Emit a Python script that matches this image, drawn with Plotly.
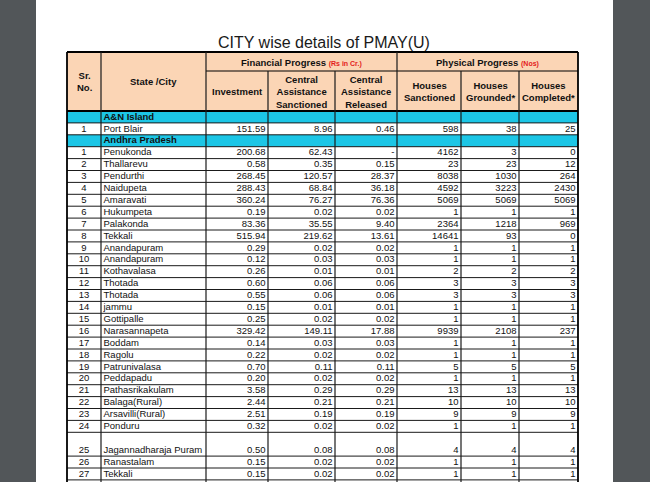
import plotly.graph_objects as go

# ---------------- data ----------------
title_text = "CITY wise details of PMAY(U)"
col_headers = ["Sr.<br>No.", "State /City", "Investment",
               "Central<br>Assistance<br>Sanctioned", "Central<br>Assistance<br>Released",
               "Houses<br>Sanctioned", "Houses<br>Grounded*", "Houses<br>Completed*"]
group_headers = ["Financial Progress", "Physical Progress"]
group_units = ["(Rs in Cr.)", "(Nos)"]

state_names = ["A&N Island", "Andhra Pradesh"]
state_city_counts = [1, 27]

sr_no = [1,
         1, 2, 3, 4, 5, 6, 7, 8, 9, 10, 11, 12, 13, 14, 15, 16, 17, 18, 19, 20,
         21, 22, 23, 24, 25, 26, 27]
cities = ["Port Blair",
          "Penukonda", "Thallarevu", "Pendurthi", "Naidupeta", "Amaravati", "Hukumpeta",
          "Palakonda", "Tekkali", "Anandapuram", "Anandapuram", "Kothavalasa", "Thotada",
          "Thotada", "jammu", "Gottipalle", "Narasannapeta", "Boddam", "Ragolu",
          "Patrunivalasa", "Peddapadu", "Pathasrikakulam", "Balaga(Rural)",
          "Arsavilli(Rural)", "Ponduru", "Jagannadharaja Puram", "Ranastalam", "Tekkali"]
investment = [151.59,
              200.68, 0.58, 268.45, 288.43, 360.24, 0.19, 83.36, 515.94, 0.29, 0.12, 0.26,
              0.60, 0.55, 0.15, 0.25, 329.42, 0.14, 0.22, 0.70, 0.20, 3.58, 2.44, 2.51,
              0.32, 0.50, 0.15, 0.15]
ca_sanctioned = [8.96,
                 62.43, 0.35, 120.57, 68.84, 76.27, 0.02, 35.55, 219.62, 0.02, 0.03, 0.01,
                 0.06, 0.06, 0.01, 0.02, 149.11, 0.03, 0.02, 0.11, 0.02, 0.29, 0.21, 0.19,
                 0.02, 0.08, 0.02, 0.02]
ca_released = [0.46,
               None, 0.15, 28.37, 36.18, 76.36, 0.02, 9.40, 13.61, 0.02, 0.03, 0.01,
               0.06, 0.06, 0.01, 0.02, 17.88, 0.03, 0.02, 0.11, 0.02, 0.29, 0.21, 0.19,
               0.02, 0.08, 0.02, 0.02]
houses_sanctioned = [598,
                     4162, 23, 8038, 4592, 5069, 1, 2364, 14641, 1, 1, 2, 3, 3, 1, 1,
                     9939, 1, 1, 5, 1, 13, 10, 9, 1, 4, 1, 1]
houses_grounded = [38,
                   3, 23, 1030, 3223, 5069, 1, 1218, 93, 1, 1, 2, 3, 3, 1, 1,
                   2108, 1, 1, 5, 1, 13, 10, 9, 1, 4, 1, 1]
houses_completed = [25,
                    0, 12, 264, 2430, 5069, 1, 969, 0, 1, 1, 2, 3, 3, 1, 1,
                    237, 1, 1, 5, 1, 13, 10, 9, 1, 4, 1, 1]

# ---------------- layout / style ----------------
W, H = 650, 482
FONT = "Liberation Sans, Arial, sans-serif"
BG_GRAY = "#525659"
HEAD_FILL = "#FBD5B5"
STATE_FILL = "#1CC6E6"
RED = "#E31B1B"
INK = "#111111"
COL_EDGES = [67, 101, 206, 268, 335, 397, 461, 519, 578]
HEAD_TOP, HEAD_MID, HEAD_BOT = 52, 71, 111
ROW_H = 11.9
DOUBLE_ROW_CITIES = {"Jagannadharaja Puram"}
BODY_FS = 9.5
HEAD_FS = 9.5
PAD = 2.5


def fmt2(v):
    return "-" if v is None else f"{v:.2f}"


# build rows (state header rows + city rows)
state_rows = []   # (name, top, bottom)
city_rows = []    # (index, top, bottom)
y = HEAD_BOT
ci = 0
for name, n in zip(state_names, state_city_counts):
    state_rows.append((name, y, y + ROW_H))
    y += ROW_H
    for _ in range(n):
        h = ROW_H * 2 if cities[ci] in DOUBLE_ROW_CITIES else ROW_H
        city_rows.append((ci, y, y + h))
        y += h
        ci += 1

fig = go.Figure()
shapes = []

# page
shapes.append(dict(type="rect", xref="x", yref="y", x0=36, x1=613, y0=-2, y1=H + 2,
                   fillcolor="white", line=dict(width=0), layer="below"))
# header fill
shapes.append(dict(type="rect", xref="x", yref="y", x0=COL_EDGES[0], x1=COL_EDGES[-1],
                   y0=HEAD_TOP, y1=HEAD_BOT, fillcolor=HEAD_FILL, line=dict(width=0), layer="below"))
# state row fills
for name, t, b in state_rows:
    shapes.append(dict(type="rect", xref="x", yref="y", x0=COL_EDGES[0], x1=COL_EDGES[-1],
                       y0=t, y1=b, fillcolor=STATE_FILL, line=dict(width=0), layer="below"))


def hline(yv, x0, x1, w=1, c="#1a1a1a"):
    shapes.append(dict(type="line", xref="x", yref="y", x0=x0, x1=x1, y0=yv, y1=yv,
                       line=dict(color=c, width=w)))


def vline(xv, y0, y1, w=1, c="#1a1a1a"):
    shapes.append(dict(type="line", xref="x", yref="y", x0=xv, x1=xv, y0=y0, y1=y1,
                       line=dict(color=c, width=w)))


# horizontal lines
hline(HEAD_TOP, COL_EDGES[0], COL_EDGES[-1], 2, "#000")
hline(HEAD_MID, COL_EDGES[2], COL_EDGES[-1], 1.2, "#000")
hline(HEAD_BOT, COL_EDGES[0], COL_EDGES[-1], 2, "#000")
for _, t, b in state_rows:
    hline(b, COL_EDGES[0], COL_EDGES[-1], 1)
for _, t, b in city_rows:
    hline(b, COL_EDGES[0], COL_EDGES[-1], 1)

# vertical lines
for i, xe in enumerate(COL_EDGES):
    if i in (0, len(COL_EDGES) - 1):
        vline(xe, HEAD_TOP, H + 2, 1.8, "#000")
    elif i in (1, 2, 5):
        vline(xe, HEAD_TOP, H + 2, 1.2)
    else:
        vline(xe, HEAD_MID, H + 2, 1.2)

# ---------------- header text ----------------
annotations = []
annotations.append(dict(x=324, y=42, xref="x", yref="y", text=title_text, showarrow=False,
                        font=dict(family=FONT, size=16, color="#1a1a1a"),
                        xanchor="center", yanchor="middle"))
for i, txt in enumerate(col_headers):
    cx = (COL_EDGES[i] + COL_EDGES[i + 1]) / 2
    cy = (HEAD_TOP + HEAD_BOT) / 2 if i < 2 else (HEAD_MID + HEAD_BOT) / 2 + 0.5
    annotations.append(dict(x=cx, y=cy, xref="x", yref="y", text=f"<b>{txt}</b>",
                            showarrow=False, font=dict(family=FONT, size=HEAD_FS, color=INK),
                            xanchor="center", yanchor="middle"))
for gi, (g, u) in enumerate(zip(group_headers, group_units)):
    x0 = COL_EDGES[2 + 3 * gi]
    x1 = COL_EDGES[5 + 3 * gi]
    annotations.append(dict(
        x=(x0 + x1) / 2, y=(HEAD_TOP + HEAD_MID) / 2 + 0.5, xref="x", yref="y",
        text=f"<b>{g}</b> <span style='color:{RED};font-size:7px'><b>{u}</b></span>",
        showarrow=False, font=dict(family=FONT, size=HEAD_FS, color=INK),
        xanchor="center", yanchor="middle"))


# ---------------- body text (scatter text through axes) ----------------
def row_text_y(t, b):
    # text sits at bottom of tall rows, centred in normal rows
    return b - ROW_H / 2 + 0.3


ys = [row_text_y(t, b) for _, t, b in city_rows]
idx = [i for i, _, _ in city_rows]

fig.add_trace(go.Scatter(
    x=[(COL_EDGES[0] + COL_EDGES[1]) / 2] * len(idx), y=ys, mode="text",
    text=[str(sr_no[i]) for i in idx], textposition="middle center",
    textfont=dict(family=FONT, size=BODY_FS, color=INK), hoverinfo="skip"))
fig.add_trace(go.Scatter(
    x=[COL_EDGES[1] + PAD] * len(idx), y=ys, mode="text",
    text=[cities[i] for i in idx], textposition="middle right",
    textfont=dict(family=FONT, size=BODY_FS, color=INK), hoverinfo="skip"))
fig.add_trace(go.Scatter(
    x=[COL_EDGES[1] + PAD] * len(state_rows),
    y=[row_text_y(t, b) for _, t, b in state_rows], mode="text",
    text=[f"<b>{n}</b>" for n, _, _ in state_rows], textposition="middle right",
    textfont=dict(family=FONT, size=BODY_FS, color=INK), hoverinfo="skip"))

num_cols = [
    [fmt2(investment[i]) for i in idx],
    [fmt2(ca_sanctioned[i]) for i in idx],
    [fmt2(ca_released[i]) for i in idx],
    [str(houses_sanctioned[i]) for i in idx],
    [str(houses_grounded[i]) for i in idx],
    [str(houses_completed[i]) for i in idx],
]
for k, col in enumerate(num_cols):
    xr = COL_EDGES[3 + k] - PAD
    fig.add_trace(go.Scatter(
        x=[xr] * len(col), y=ys, mode="text", text=col, textposition="middle left",
        textfont=dict(family=FONT, size=BODY_FS, color=INK), hoverinfo="skip"))

fig.update_layout(
    width=W, height=H, margin=dict(l=0, r=0, t=0, b=0),
    paper_bgcolor=BG_GRAY, plot_bgcolor=BG_GRAY, showlegend=False,
    xaxis=dict(range=[0, W], visible=False, fixedrange=True),
    yaxis=dict(range=[H, 0], visible=False, fixedrange=True),
    shapes=shapes, annotations=annotations,
)
fig.write_html(
    "out.html",
    config={"displayModeBar": False},
    post_script=(f"document.body.style.margin='0';"
                 f"document.body.style.background='{BG_GRAY}';"
                 "document.body.style.overflow='hidden';"),
)
